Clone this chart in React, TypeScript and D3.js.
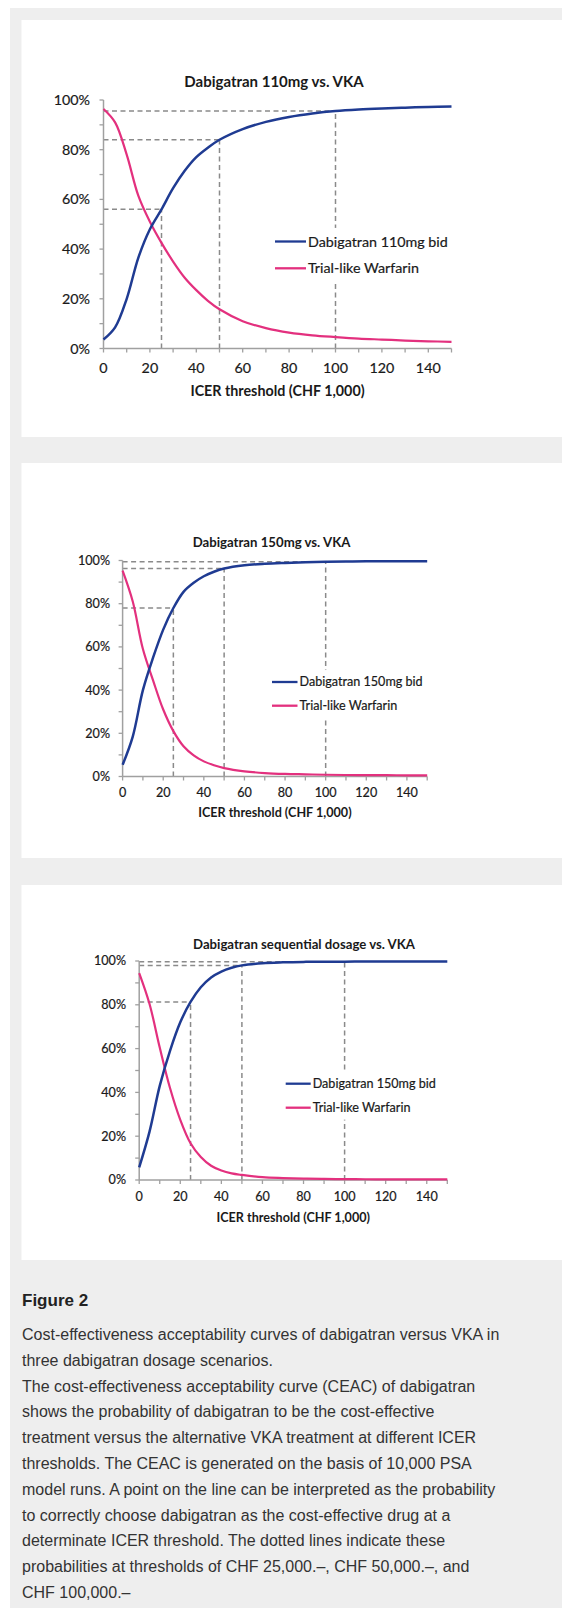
import * as d3 from "d3";
import React from "react";

// ICER threshold (CHF 1,000)
const thresholds = [0, 5, 10, 15, 20, 25, 30, 35, 40, 45, 50, 60, 70, 80, 90, 100, 110, 120, 130, 140, 150];

// Dabigatran 110mg vs. VKA (%)
const dabi110 = [3.6, 8.5, 20, 36.5, 48, 56, 64.5, 71.5, 77, 80.8, 84, 88.3, 91.2, 93.2, 94.6, 95.6, 96.2, 96.6, 96.9, 97.2, 97.4];
const warf110 = [96.4, 91, 78, 61.5, 51, 42.5, 35, 28.5, 23.5, 19.2, 15.8, 11, 8.2, 6.4, 5.3, 4.6, 4, 3.6, 3.2, 2.9, 2.7];

// Dabigatran 150mg vs. VKA (%)
const dabi150 = [5.4, 18.5, 40, 55, 68, 78, 85.5, 89.7, 92.7, 94.8, 96.3, 97.8, 98.5, 98.9, 99.2, 99.4, 99.5, 99.6, 99.65, 99.7, 99.7];
const warf150 = [95.3, 81, 59, 44.5, 31, 21, 14, 9.8, 7, 5.2, 3.9, 2.4, 1.6, 1.2, 1.0, 0.8, 0.7, 0.65, 0.6, 0.55, 0.5];

// Dabigatran sequential dosage vs. VKA (%)
const dabiSeq = [5.8, 22, 43, 59, 72, 81.3, 88, 92.5, 95.2, 96.9, 98, 99, 99.4, 99.6, 99.65, 99.7, 99.75, 99.8, 99.8, 99.8, 99.8];
const warfSeq = [94.5, 80.5, 60.5, 42, 27.5, 16.8, 10.5, 6.5, 4.3, 3, 2.3, 1.3, 0.9, 0.65, 0.5, 0.4, 0.35, 0.3, 0.3, 0.25, 0.25];

const refThresholds = [25, 50, 100];
const yTicks = [0, 20, 40, 60, 80, 100];
const yMinorTicks = [0, 10, 20, 30, 40, 50, 60, 70, 80, 90, 100];
const xTicks = [0, 20, 40, 60, 80, 100, 120, 140];
const xMinorTicks = [0, 10, 20, 30, 40, 50, 60, 70, 80, 90, 100, 110, 120, 130, 140, 150];

const titles = ["Dabigatran 110mg vs. VKA", "Dabigatran 150mg vs. VKA", "Dabigatran sequential dosage vs. VKA"];
const dabiLabels = ["Dabigatran 110mg bid", "Dabigatran 150mg bid", "Dabigatran 150mg bid"];
const warfLabel = "Trial-like Warfarin";
const xAxisTitle = "ICER threshold (CHF 1,000)";

const captionTitle = "Figure 2";
const captionLines = [
  "Cost-effectiveness acceptability curves of dabigatran versus VKA in",
  "three dabigatran dosage scenarios.",
  "The cost-effectiveness acceptability curve (CEAC) of dabigatran",
  "shows the probability of dabigatran to be the cost-effective",
  "treatment versus the alternative VKA treatment at different ICER",
  "thresholds. The CEAC is generated on the basis of 10,000 PSA",
  "model runs. A point on the line can be interpreted as the probability",
  "to correctly choose dabigatran as the cost-effective drug at a",
  "determinate ICER threshold. The dotted lines indicate these",
  "probabilities at thresholds of CHF 25,000.–, CHF 50,000.–, and",
  "CHF 100,000.–",
];

const BLUE = "#1f3b92";
const PINK = "#e3307e";
const AXIS = "#a0a0a0";
const DASH = "#8a8a8a";
const TEXT = "#1a1a1a";
const FONT = "Lato, 'Open Sans', sans-serif";

// パネル毎のレイアウト
const layouts = [
  { panelY: 20, panelH: 417, left: 103.5, right: 451.5, top: 100, bottom: 348.5, titleX: 274, titleY: 82, titleSize: 15, fs: 14.3, tickRight: 90, xLabelY: 368, axisTitleY: 391, legX: 275, legLen: 31, legY: [241.5, 268.3] },
  { panelY: 463, panelH: 395, left: 122.6, right: 427.2, top: 560.5, bottom: 776.5, titleX: 271.5, titleY: 542.5, titleSize: 13.2, fs: 12.6, tickRight: 110, xLabelY: 793, axisTitleY: 813, legX: 272, legLen: 25.5, legY: [682, 705.7] },
  { panelY: 885, panelH: 375, left: 139.2, right: 447.3, top: 961, bottom: 1180, titleX: 304, titleY: 944, titleSize: 13.2, fs: 12.6, tickRight: 126, xLabelY: 1197, axisTitleY: 1217.3, legX: 285.7, legLen: 25, legY: [1083.7, 1107.7] },
];

const seriesSets = [
  [dabi110, warf110],
  [dabi150, warf150],
  [dabiSeq, warfSeq],
];

const Chart = ({ L, dabi, warf, title, dabiLabel }) => {
  const x = d3.scaleLinear().domain([0, 150]).range([L.left, L.right]);
  const y = d3.scaleLinear().domain([0, 100]).range([L.bottom, L.top]);
  const line = d3
    .line()
    .x((d) => x(d[0]))
    .y((d) => y(d[1]))
    .curve(d3.curveCatmullRom.alpha(0.5));
  const dabiPath = line(thresholds.map((t, i) => [t, dabi[i]]));
  const warfPath = line(thresholds.map((t, i) => [t, warf[i]]));
  const pad = L.fs * 0.95;

  return (
    <g fontFamily={FONT}>
      <text x={L.titleX} y={L.titleY} dy="0.35em" textAnchor="middle" fontWeight="bold" fontSize={L.titleSize} fill={TEXT}>
        {title}
      </text>

      {/* 参照線 */}
      {refThresholds.map((t) => {
        const v = dabi[thresholds.indexOf(t)];
        return (
          <g key={t} stroke={DASH} strokeWidth="1.5" strokeDasharray="5 3.5" fill="none">
            <line x1={x(0)} y1={y(v)} x2={x(t)} y2={y(v)} />
            <line x1={x(t)} y1={y(0)} x2={x(t)} y2={y(v)} />
          </g>
        );
      })}

      {/* 軸 */}
      <line x1={x(0)} y1={y(0)} x2={x(0)} y2={y(100)} stroke={AXIS} strokeWidth="1.5" />
      <line x1={x(0)} y1={y(0)} x2={x(150)} y2={y(0)} stroke={AXIS} strokeWidth="1.5" />
      {yMinorTicks.map((t) => (
        <line key={t} x1={x(0) - 4} y1={y(t)} x2={x(0)} y2={y(t)} stroke={AXIS} strokeWidth="1.3" />
      ))}
      {xMinorTicks.map((t) => (
        <line key={t} x1={x(t)} y1={y(0)} x2={x(t)} y2={y(0) + 4} stroke={AXIS} strokeWidth="1.3" />
      ))}
      {yTicks.map((t) => (
        <text key={t} x={L.tickRight} y={y(t)} dy="0.35em" textAnchor="end" fontSize={L.fs} fill={TEXT} stroke={TEXT} strokeWidth="0.2">
          {t}%
        </text>
      ))}
      {xTicks.map((t) => (
        <text key={t} x={x(t)} y={L.xLabelY} dy="0.35em" textAnchor="middle" fontSize={L.fs} fill={TEXT} stroke={TEXT} strokeWidth="0.2">
          {t}
        </text>
      ))}
      <text x={(x(0) + x(150)) / 2} y={L.axisTitleY} dy="0.35em" textAnchor="middle" fontWeight="bold" fontSize={L.fs} fill={TEXT}>
        {xAxisTitle}
      </text>

      <path d={warfPath} fill="none" stroke={PINK} strokeWidth="2.2" />
      <path d={dabiPath} fill="none" stroke={BLUE} strokeWidth="2.5" />

      {/* 凡例 */}
      <rect x={L.legX - 3} y={L.legY[0] - pad} width={x(150) - L.legX + 2} height={L.legY[1] - L.legY[0] + pad * 2} fill="#fff" />
      {[
        [dabiLabel, BLUE, L.legY[0]],
        [warfLabel, PINK, L.legY[1]],
      ].map(([label, color, ly]) => (
        <g key={label}>
          <line x1={L.legX} y1={ly} x2={L.legX + L.legLen} y2={ly} stroke={color} strokeWidth="2.3" />
          <text x={L.legX + L.legLen + 2} y={ly} dy="0.35em" fontSize={L.fs} fill={TEXT} stroke={TEXT} strokeWidth="0.2">
            {label}
          </text>
        </g>
      ))}
    </g>
  );
};

export default function App() {
  return (
    <svg
      width={562}
      height={1608}
      viewBox="0 0 562 1608"
      style={{ position: "absolute", left: 0, top: 0, display: "block" }}
    >
      <rect x={0} y={0} width={562} height={1608} fill="#fff" />
      <rect x={10} y={8} width={552} height={1600} fill="#eeeeee" />
      {layouts.map((L, i) => (
        <g key={i}>
          <rect x={21.5} y={L.panelY} width={540.5} height={L.panelH} fill="#fff" />
          <Chart L={L} dabi={seriesSets[i][0]} warf={seriesSets[i][1]} title={titles[i]} dabiLabel={dabiLabels[i]} />
        </g>
      ))}

      <g fontFamily="'Liberation Sans', Arial, sans-serif" fill="#222">
        <text x={22} y={1306} fontSize={17} fontWeight="bold">
          {captionTitle}
        </text>
        {captionLines.map((s, i) => (
          <text key={i} x={22} y={1340 + i * 25.8} fontSize={16} fill="#333">
            {s}
          </text>
        ))}
      </g>
    </svg>
  );
}
